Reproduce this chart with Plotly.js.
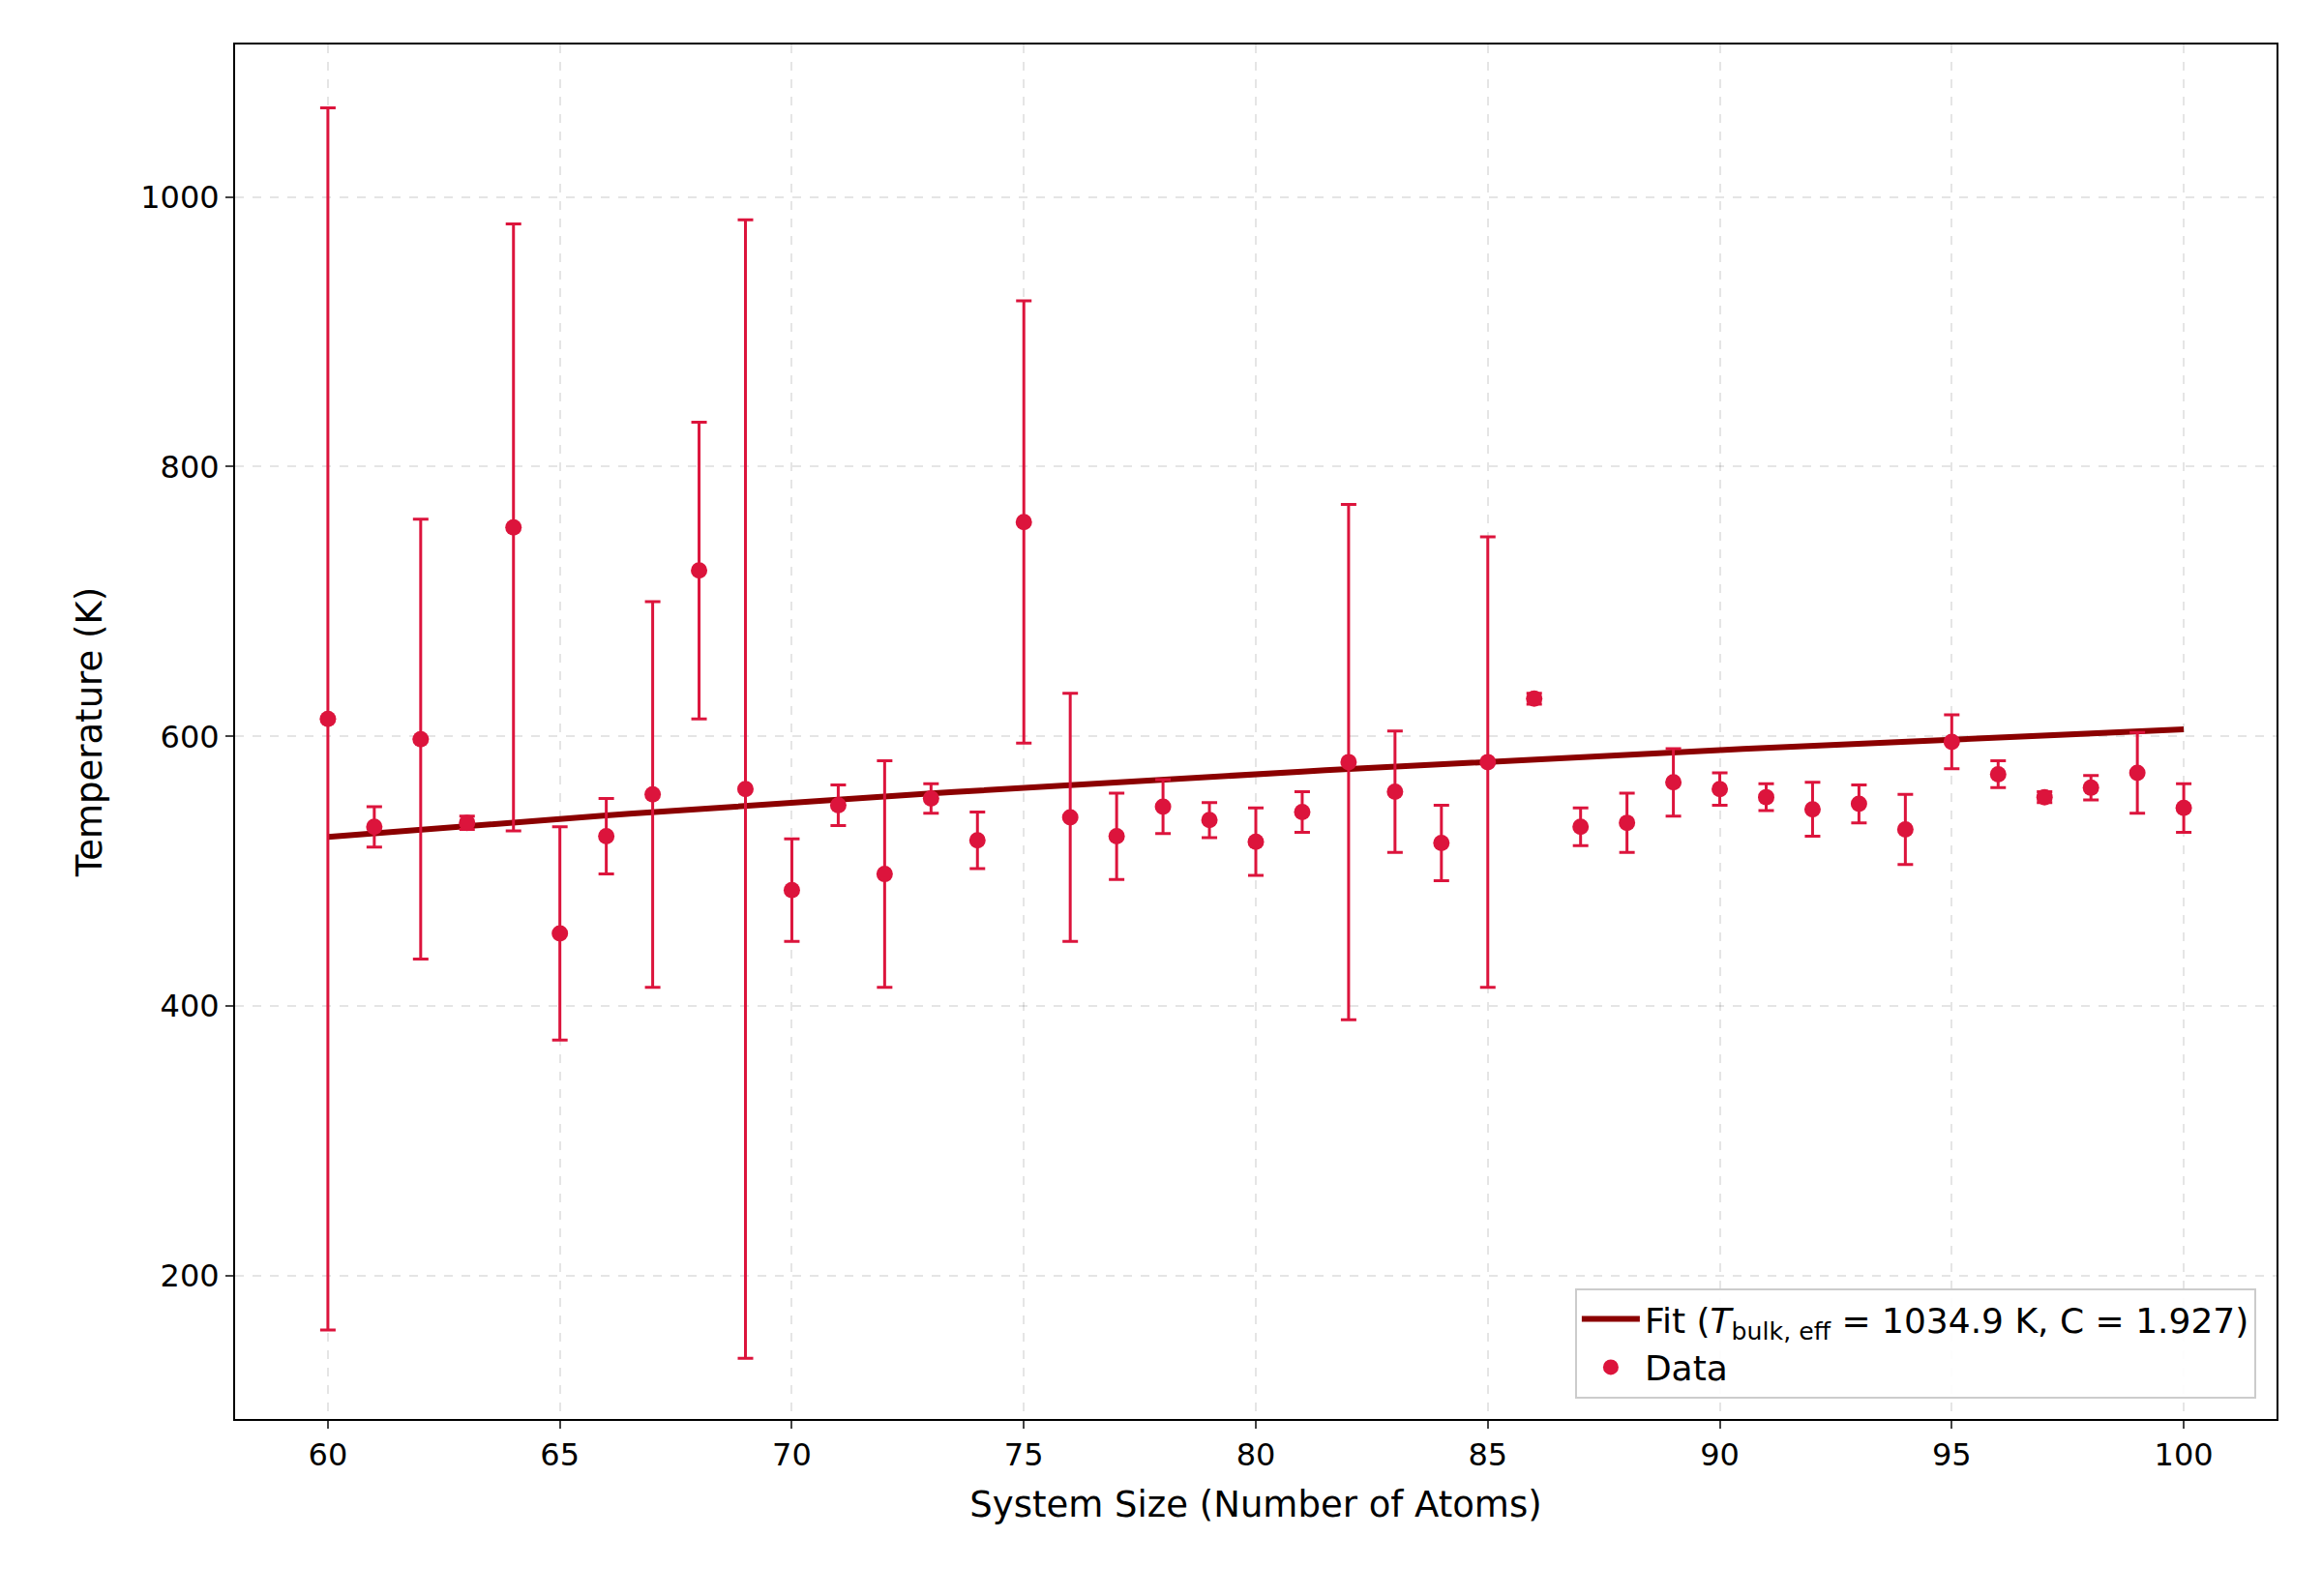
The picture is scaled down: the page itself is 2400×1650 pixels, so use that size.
<!DOCTYPE html>
<html><head><meta charset="utf-8">
<script src="https://cdn.plot.ly/plotly-3.0.1.min.js"></script>
<style>body{margin:0;background:#fff}</style></head>
<body><div id="chart" style="width:2400px;height:1650px"></div>
<script>
const sizes = [60,61,62,63,64,65,66,67,68,69,70,71,72,73,74,75,76,77,78,79,80,81,82,83,84,85,86,87,88,89,90,91,92,93,94,95,96,97,98,99,100];
const temps = [613,533,598,536,755,454,526,557,723,561,486,549,498,554,523,759,540,526,548,538,522,544,581,559,521,581,628,533,536,566,561,555,546,550,531,596,572,555,562,573,547];
const errors = [453,15,163,5,225,79,28,143,110,422,38,15,84,11,21,164,92,32,20,13,25,15,191,45,28,167,4,14,22,25,12,10,20,14,26,20,10,4,9,30,18];
const tBulk = 1034.9, cParam = 1.927;
const fitX = [], fitY = [];
for (let n = 60; n <= 100; n += 0.5) { fitX.push(n); fitY.push(tBulk * (1 - cParam / Math.cbrt(n))); }
const red = '#dc143c';
const data = [
 {x: fitX, y: fitY, mode: 'lines', line: {color: '#8b0000', width: 6}, name: 'Fit (<i>T</i><sub>bulk, eff</sub> = 1034.9 K, C = 1.927)'},
 {x: sizes, y: temps, mode: 'markers', marker: {color: red, size: 17}, name: 'Data',
  error_y: {type: 'data', array: errors, visible: true, color: red, thickness: 3, width: 8}}
];
const grid = {showgrid: true, gridcolor: 'rgba(0,0,0,0.1)', griddash: 'dash', gridwidth: 1.5};
const layout = {
 width: 2400, height: 1650, paper_bgcolor: '#fff', plot_bgcolor: '#fff',
 margin: {l: 243, r: 47, t: 46, b: 183},
 font: {family: 'DejaVu Sans', size: 32, color: '#000'},
 xaxis: Object.assign({range: [58, 102], tickvals: [60,65,70,75,80,85,90,95,100], ticks: 'outside', ticklen: 8, tickwidth: 1.5,
   showline: true, mirror: true, linecolor: '#000', linewidth: 2, zeroline: false,
   title: {text: 'System Size (Number of Atoms)', font: {size: 37}, standoff: 20}}, grid),
 yaxis: Object.assign({range: [94, 1113], tickvals: [200,400,600,800,1000], ticks: 'outside', ticklen: 8, tickwidth: 1.5,
   showline: true, mirror: true, linecolor: '#000', linewidth: 2, zeroline: false,
   title: {text: 'Temperature (K)', font: {size: 37}, standoff: 28}}, grid),
 legend: {x: 0.99, y: 0.015, xanchor: 'right', yanchor: 'bottom', bgcolor: 'rgba(255,255,255,0.9)',
   bordercolor: '#ccc', borderwidth: 2, font: {size: 36}, itemwidth: 60, tracegroupgap: 6},
 showlegend: true
};
Plotly.newPlot('chart', data, layout, {displayModeBar: false});
</script></body></html>
